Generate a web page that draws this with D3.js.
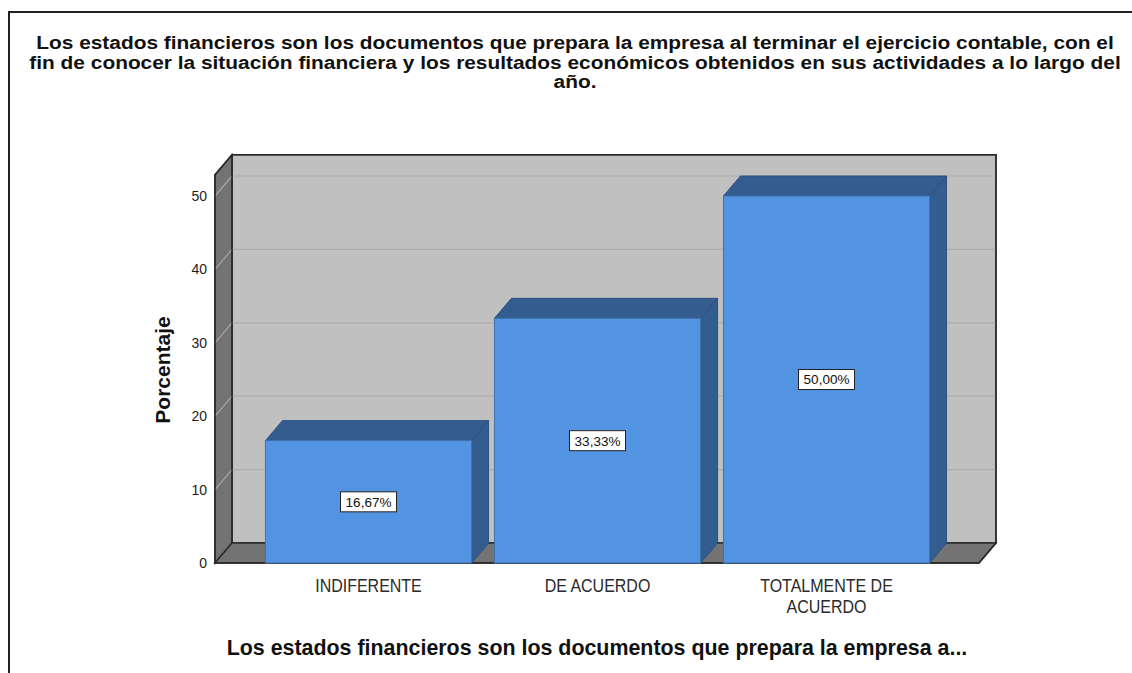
<!DOCTYPE html>
<html>
<head>
<meta charset="utf-8">
<script src="https://cdn.jsdelivr.net/npm/d3@7"></script>
<style>
  body { margin: 0; background: #fff; }
  text { font-family: "Liberation Sans", Arial, sans-serif; }
</style>
</head>
<body>
<div class="graph"></div>
<script>
const width = 1132;
const height = 673;

// data
const categories = ["INDIFERENTE", "DE ACUERDO", "TOTALMENTE DE ACUERDO"];
const categoryLines = [["INDIFERENTE"], ["DE ACUERDO"], ["TOTALMENTE DE", "ACUERDO"]];
const percentages = [16.67, 33.33, 50.00];
const yTicks = [0, 10, 20, 30, 40, 50];
const titleLines = [
  "Los estados financieros son los documentos que prepara la empresa al terminar el ejercicio contable, con el",
  "fin de conocer la situación financiera y los resultados económicos obtenidos en sus actividades a lo largo del",
  "año."
];
const xTitle = "Los estados financieros son los documentos que prepara la empresa a...";
const yTitle = "Porcentaje";

// 3d depth of the box
const dx = 17, dy = 20;
const plotLeft = 215, plotRight = 979;

const svg = d3.select(".graph")
  .append("svg")
  .attr("width", width)
  .attr("height", height);

// outer frame
svg.append("path")
  .attr("d", `M9,${height} L9,12 L${width},12`)
  .attr("fill", "none")
  .attr("stroke", "#222")
  .attr("stroke-width", 2);

const y = d3.scaleLinear().domain([0, 50]).range([563, 196]);
const yMax = 52.9;

const x = d3.scaleBand()
  .domain(categories)
  .range([254, 941])
  .paddingInner(0.1)
  .paddingOuter(0.05);

const pts = a => a.map(p => p.join(",")).join(" ");

// back wall
svg.append("polygon")
  .attr("points", pts([[plotLeft + dx, y(yMax) - dy], [plotRight + dx, y(yMax) - dy],
                       [plotRight + dx, y(0) - dy], [plotLeft + dx, y(0) - dy]]))
  .attr("fill", "#c0c0c0")
  .attr("stroke", "#333")
  .attr("stroke-width", 1.5);

// side wall
svg.append("polygon")
  .attr("points", pts([[plotLeft, y(yMax)], [plotLeft + dx, y(yMax) - dy],
                       [plotLeft + dx, y(0) - dy], [plotLeft, y(0)]]))
  .attr("fill", "#737373")
  .attr("stroke", "#2a2a2a")
  .attr("stroke-width", 1.5);

// floor
svg.append("polygon")
  .attr("points", pts([[plotLeft, y(0)], [plotLeft + dx, y(0) - dy],
                       [plotRight + dx, y(0) - dy], [plotRight, y(0)]]))
  .attr("fill", "#737373")
  .attr("stroke", "#2a2a2a")
  .attr("stroke-width", 1.5);

// gridlines
const grid = svg.append("g");
grid.selectAll("line.back")
  .data(yTicks.filter(d => d > 0))
  .join("line")
  .attr("class", "back")
  .attr("x1", plotLeft + dx).attr("x2", plotRight + dx)
  .attr("y1", d => y(d) - dy).attr("y2", d => y(d) - dy)
  .attr("stroke", "#adadad")
  .attr("stroke-width", 1.2);
grid.selectAll("line.side")
  .data(yTicks.filter(d => d > 0))
  .join("line")
  .attr("class", "side")
  .attr("x1", plotLeft).attr("x2", plotLeft + dx)
  .attr("y1", d => y(d)).attr("y2", d => y(d) - dy)
  .attr("stroke", "#a6a6a6")
  .attr("stroke-width", 1.2);

// re-stroke wall edges
svg.append("path")
  .attr("d", `M${plotLeft},${y(0)} L${plotLeft},${y(yMax)} L${plotLeft + dx},${y(yMax) - dy} L${plotRight + dx},${y(yMax) - dy} L${plotRight + dx},${y(0) - dy} L${plotRight},${y(0)} Z`)
  .attr("fill", "none")
  .attr("stroke", "#2a2a2a")
  .attr("stroke-width", 1.5);
svg.append("line")
  .attr("x1", plotLeft + dx).attr("x2", plotLeft + dx)
  .attr("y1", y(yMax) - dy).attr("y2", y(0) - dy)
  .attr("stroke", "#2a2a2a").attr("stroke-width", 1.5);

// y axis labels
const yAxis = d3.axisLeft(y).tickValues(yTicks).tickSize(0).tickPadding(8);
const yAxisG = svg.append("g")
  .attr("transform", `translate(${plotLeft},0)`)
  .call(yAxis);
yAxisG.select(".domain").remove();
yAxisG.selectAll("text")
  .attr("font-family", "Liberation Sans, Arial, sans-serif")
  .attr("font-size", 14)
  .attr("fill", "#222");

// bars
const bars = svg.append("g").selectAll("g.bar")
  .data(percentages)
  .join("g")
  .attr("class", "bar");

bars.append("polygon")
  .attr("points", (d, i) => {
    const x0 = x(categories[i]), x1 = x0 + x.bandwidth(), t = y(d);
    return pts([[x0, t], [x0 + dx, t - dy], [x1 + dx, t - dy], [x1, t]]);
  })
  .attr("fill", "#345d8f")
  .attr("stroke", "#2c5080")
  .attr("stroke-width", 1);

bars.append("polygon")
  .attr("points", (d, i) => {
    const x1 = x(categories[i]) + x.bandwidth(), t = y(d);
    return pts([[x1, t], [x1 + dx, t - dy], [x1 + dx, y(0) - dy], [x1, y(0)]]);
  })
  .attr("fill", "#345d8f")
  .attr("stroke", "#2c5080")
  .attr("stroke-width", 1);

bars.append("rect")
  .attr("x", (d, i) => x(categories[i]))
  .attr("y", d => y(d))
  .attr("width", x.bandwidth())
  .attr("height", d => y(0) - y(d))
  .attr("fill", "#5294e2")
  .attr("stroke", "#3f72ad")
  .attr("stroke-width", 1);

// value labels
const lab = bars.append("g")
  .attr("transform", (d, i) => `translate(${x(categories[i]) + x.bandwidth() / 2},${(y(d) + y(0)) / 2})`);
lab.append("rect")
  .attr("x", -28).attr("y", -10)
  .attr("width", 56).attr("height", 20)
  .attr("fill", "#fff")
  .attr("stroke", "#222")
  .attr("stroke-width", 1);
lab.append("text")
  .attr("text-anchor", "middle")
  .attr("dy", "0.36em")
  .attr("font-size", 13.5)
  .attr("fill", "#111")
  .text(d => d.toFixed(2).replace(".", ",") + "%");

// category labels (tall, narrow look)
const catText = svg.append("g").selectAll("text")
  .data(categoryLines)
  .join("text")
  .attr("text-anchor", "middle")
  .attr("font-size", 16)
  .attr("fill", "#2a2a2a")
  .attr("transform", (d, i) => `translate(${x(categories[i]) + x.bandwidth() / 2},592) scale(1,1.2)`);
catText.selectAll("tspan")
  .data(d => d)
  .join("tspan")
  .attr("x", 0)
  .attr("y", (d, i) => i * 21 / 1.2)
  .text(d => d);

// y title
svg.append("text")
  .attr("transform", "translate(170,370) rotate(-90)")
  .attr("text-anchor", "middle")
  .attr("font-size", 21)
  .attr("font-weight", "bold")
  .attr("fill", "#111")
  .text(yTitle);

// x title
svg.append("text")
  .attr("x", 597)
  .attr("y", 655)
  .attr("text-anchor", "middle")
  .attr("font-size", 21.4)
  .attr("font-weight", "bold")
  .attr("fill", "#111")
  .text(xTitle);

// main title (wide, tightly leaded)
svg.append("g").selectAll("text")
  .data(titleLines)
  .join("text")
  .attr("transform", (d, i) => `translate(575,${49 + i * 19.5}) scale(1.16,1)`)
  .attr("text-anchor", "middle")
  .attr("font-size", 18)
  .attr("font-weight", "bold")
  .attr("fill", "#111")
  .text(d => d);
</script>
</body>
</html>
